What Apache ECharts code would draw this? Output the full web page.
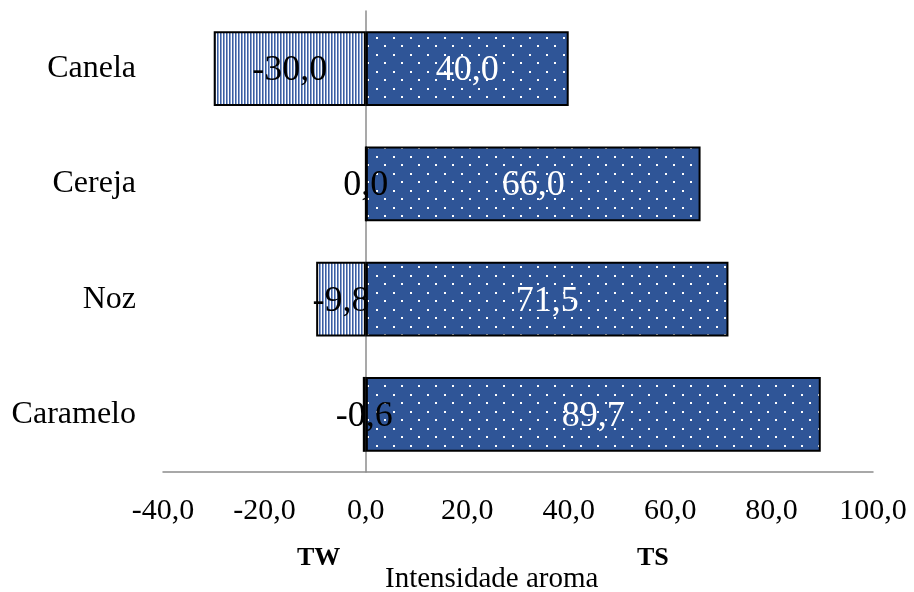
<!DOCTYPE html>
<html>
<head>
<meta charset="utf-8">
<script src="https://cdn.jsdelivr.net/npm/echarts@6/dist/echarts.min.js"></script>
<style>html,body{margin:0;padding:0;background:#fff;}#c{width:914px;height:592px;}</style>
</head>
<body>
<div id="c"></div>
<script>
const categories = ['Canela', 'Cereja', 'Noz', 'Caramelo'];
const twValues = [-30.0, 0.0, -9.8, -0.6];
const tsValues = [40.0, 66.0, 71.5, 89.7];
const xTicks = [-40, -20, 0, 20, 40, 60, 80, 100];
const axisTitle = 'Intensidade aroma';

const BLUE = '#2F5597';
const FONT = '"Liberation Serif", "Times New Roman", serif';

function stripePattern() {
  const c = document.createElement('canvas');
  c.width = 3; c.height = 8;
  const g = c.getContext('2d');
  g.fillStyle = '#ffffff'; g.fillRect(0, 0, 3, 8);
  g.fillStyle = '#3A5EA2'; g.fillRect(1, 0, 1, 8);
  g.fillStyle = '#8CA2CD'; g.fillRect(2, 0, 1, 8);
  return c;
}
function dotPattern() {
  const c = document.createElement('canvas');
  c.width = 17; c.height = 17;
  const g = c.getContext('2d');
  g.fillStyle = BLUE; g.fillRect(0, 0, 17, 17);
  g.fillStyle = '#ffffff';
  g.fillRect(2, 3, 2, 2);
  g.fillRect(10, 11, 2, 2);
  return c;
}
const fmt = v => v.toFixed(1).replace('.', ',');

const chart = echarts.init(document.getElementById('c'));
chart.setOption({
  animation: false,
  grid: { left: 163, right: 41, top: 11, bottom: 120, containLabel: false, outerBoundsMode: 'none' },
  xAxis: {
    type: 'value', min: -40, max: 100, interval: 20,
    axisLine: { show: true, lineStyle: { color: '#8C8C8C', width: 1.5 } },
    axisTick: { show: false },
    splitLine: { show: false },
    axisLabel: { color: '#000', fontFamily: FONT, fontSize: 30, margin: 24,
      formatter: v => xTicks.indexOf(v) >= 0 ? fmt(v) : '' }
  },
  yAxis: {
    type: 'category', data: categories, inverse: true,
    axisLine: { show: true, lineStyle: { color: '#8C8C8C', width: 1.5 } },
    axisTick: { show: false },
    axisLabel: { color: '#000', fontFamily: FONT, fontSize: 32, margin: 27, padding: [4, 0, 0, 0] }
  },
  series: [
    {
      name: 'TW', type: 'bar', data: twValues, barWidth: '65%', barGap: '-100%',
      itemStyle: { color: { image: stripePattern(), repeat: 'repeat' }, borderColor: '#000', borderWidth: 2 },
      label: { show: true, position: 'inside', offset: [0, 2], color: '#000', fontFamily: FONT, fontSize: 36,
        formatter: p => fmt(p.value) }
    },
    {
      name: 'TS', type: 'bar', data: tsValues, barWidth: '65%', barGap: '-100%',
      itemStyle: { color: { image: dotPattern(), repeat: 'repeat' }, borderColor: '#000', borderWidth: 2 },
      label: { show: true, position: 'inside', offset: [0, 2], color: '#fff', fontFamily: FONT, fontSize: 36,
        formatter: p => fmt(p.value) }
    }
  ],
  graphic: [
    { type: 'text', left: 297, top: 545, style: { text: 'TW', font: 'bold 26px ' + FONT, fill: '#000' } },
    { type: 'text', left: 637, top: 545, style: { text: 'TS', font: 'bold 26px ' + FONT, fill: '#000' } },
    { type: 'text', left: 385, top: 565, style: { text: axisTitle, font: '29px ' + FONT, fill: '#000' } }
  ]
});
</script>
</body>
</html>
